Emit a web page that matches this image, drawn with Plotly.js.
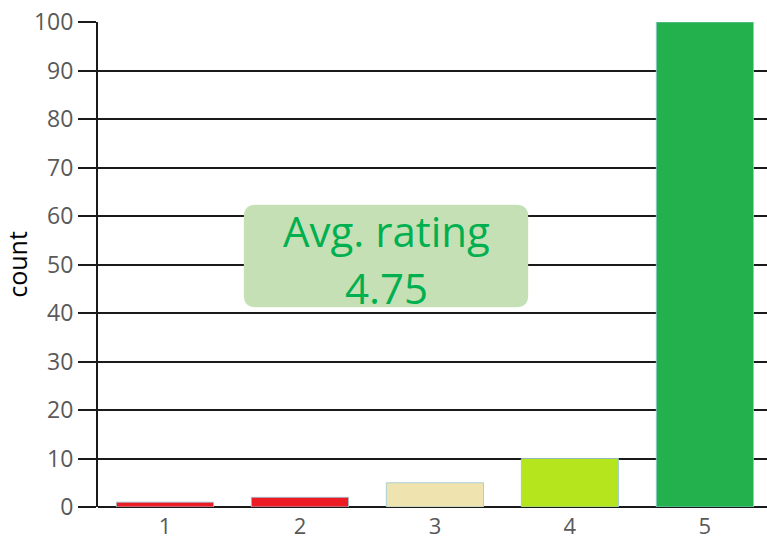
<!DOCTYPE html>
<html><head><meta charset="utf-8">
<script src="https://cdn.plot.ly/plotly-3.0.1.min.js"></script>
<style>html,body{margin:0;padding:0;background:#fff}</style>
</head><body>
<div id="chart" style="width:767px;height:539px"></div>
<script>
const ratings = [1, 2, 3, 4, 5];
const counts = [1, 2, 5, 10, 100];
const barColors = ['#ED1C24', '#ED1C24', '#EFE4B0', '#B5E61D', '#22B14C'];
const yTicks = [0, 10, 20, 30, 40, 50, 60, 70, 80, 90, 100];

const total = counts.reduce((a, b) => a + b, 0);
const avg = ratings.reduce((s, r, i) => s + r * counts[i], 0) / total;

// rounded box in paper coords
const bx0 = 0.218, bx1 = 0.643, by0 = 0.412, by1 = 0.623;
const rx = 12 / 669, ry = 12 / 485;
const boxPath = `M ${bx0 + rx} ${by0} L ${bx1 - rx} ${by0} Q ${bx1} ${by0} ${bx1} ${by0 + ry} L ${bx1} ${by1 - ry} Q ${bx1} ${by1} ${bx1 - rx} ${by1} L ${bx0 + rx} ${by1} Q ${bx0} ${by1} ${bx0} ${by1 - ry} L ${bx0} ${by0 + ry} Q ${bx0} ${by0} ${bx0 + rx} ${by0} Z`;

const data = [{
  type: 'bar',
  x: ratings,
  y: counts,
  width: 0.72,
  marker: { color: barColors, line: { color: 'rgba(150,200,215,0.8)', width: 1 } },
  hoverinfo: 'x+y'
}];

const layout = {
  width: 767, height: 539,
  margin: { l: 98, r: 0, t: 22, b: 32, pad: 0 },
  paper_bgcolor: '#fff', plot_bgcolor: '#fff',
  font: { family: '"Open Sans", sans-serif', color: '#595959', size: 22 },
  showlegend: false,
  xaxis: {
    range: [0.504, 5.46],
    tickvals: ratings,
    ticktext: ratings.map(String),
    showgrid: false, zeroline: false, showline: false,
    ticks: '', ticklabelstandoff: 4, tickfont: { size: 22, color: '#595959' }
  },
  yaxis: {
    range: [0, 100],
    tickvals: yTicks,
    ticks: 'outside', ticklen: 18, tickwidth: 2, tickcolor: '#1a1a1a',
    showgrid: true, gridcolor: '#1a1a1a', gridwidth: 2,
    zeroline: true, zerolinecolor: '#1a1a1a', zerolinewidth: 2,
    showline: true, linecolor: '#1a1a1a', linewidth: 2,
    tickfont: { size: 23, color: '#595959' },
    title: { text: 'count', font: { size: 25, color: '#000' }, standoff: 6 }
  },
  shapes: [{
    type: 'path', xref: 'paper', yref: 'paper', path: boxPath,
    fillcolor: '#C5E0B4', line: { width: 0 }, layer: 'above'
  }],
  annotations: [
    { xref: 'paper', yref: 'paper', x: (bx0 + bx1) / 2, y: 1 - (230 - 22) / 485, yanchor: 'middle', xanchor: 'center',
      text: 'Avg. rating', showarrow: false, font: { size: 42, color: '#00B050' } },
    { xref: 'paper', yref: 'paper', x: (bx0 + bx1) / 2, y: 1 - (287 - 22) / 485, yanchor: 'middle', xanchor: 'center',
      text: avg.toFixed(2), showarrow: false, font: { size: 42, color: '#00B050' } }
  ]
};

Plotly.newPlot('chart', data, layout, { displayModeBar: false, staticPlot: true });
</script>
</body></html>
